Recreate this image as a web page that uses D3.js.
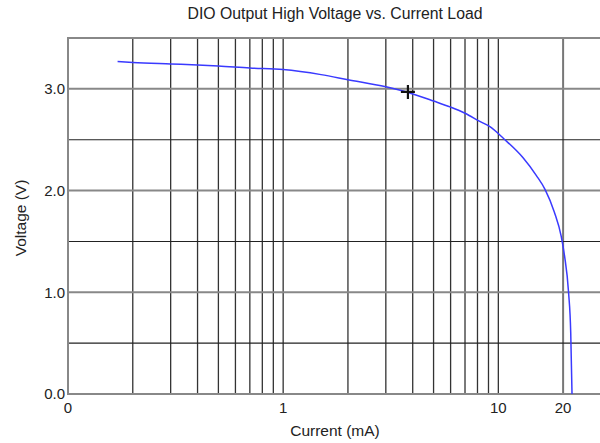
<!DOCTYPE html>
<html lang="en">
<head>
<meta charset="UTF-8">
<title>DIO Output High Voltage vs. Current Load</title>
<script src="https://d3js.org/d3.v7.min.js"></script>
<style>
  body { margin: 0; background: #fff; }
  text { font-family: "Liberation Sans", Arial, sans-serif; fill: #222; }
</style>
</head>
<body>
<script>
// Curve readings: current (mA) and output voltage (V)
const currentMa = [0.17, 0.2, 0.3, 0.4, 0.5, 0.7, 1.0, 1.5, 2.0, 3.0, 4.0, 5.0, 6.0, 7.0, 8.2, 9.1, 10.6, 13.0, 15.0, 16.5, 18.2, 19.6, 20.3, 21.2, 21.7, 22.0];
const voltage   = [3.27, 3.26, 3.245, 3.235, 3.225, 3.205, 3.19, 3.14, 3.09, 3.02, 2.95, 2.88, 2.82, 2.76, 2.68, 2.63, 2.51, 2.325, 2.15, 2.01, 1.79, 1.55, 1.36, 1.0, 0.6, 0.0];

// Marker point
const marker = { current: 3.8, voltage: 2.97 };

// Grid and tick values
const xGrid = [0.2, 0.3, 0.4, 0.5, 0.6, 0.7, 0.8, 0.9, 1, 2, 3, 4, 5, 6, 7, 8, 9, 10, 20];
const xTicks = [0.1, 1, 10, 20];
const xTickLabels = ["0", "1", "10", "20"];
const yGrid = [0.5, 1.0, 1.5, 2.0, 2.5, 3.0];
const yTicks = [0, 1, 2, 3];

const width = 600, height = 443;
const margin = { top: 38, right: -1, bottom: 49, left: 68 };

const svg = d3.select("body").append("svg")
    .attr("width", width)
    .attr("height", height);

const x = d3.scaleLog()
    .domain([0.1, 30])
    .range([margin.left, width - margin.right]);

const y = d3.scaleLinear()
    .domain([0, 3.5])
    .range([height - margin.bottom, margin.top]);

svg.append("defs").append("clipPath").attr("id", "plot")
    .append("rect")
    .attr("x", margin.left).attr("y", margin.top)
    .attr("width", width - margin.left).attr("height", y(0) - margin.top);

// vertical grid
svg.append("g")
    .selectAll("line")
    .data(xGrid)
    .join("line")
    .attr("x1", d => x(d)).attr("x2", d => x(d))
    .attr("y1", y(3.5)).attr("y2", y(0))
    .attr("stroke", d => d === 20 ? "#777" : "#333")
    .attr("stroke-width", d => d === 20 ? 2 : 1.3);

// horizontal grid
svg.append("g")
    .selectAll("line")
    .data(yGrid)
    .join("line")
    .attr("x1", margin.left).attr("x2", width)
    .attr("y1", d => y(d)).attr("y2", d => y(d))
    .attr("stroke", d => Number.isInteger(d) ? "#888" : "#222")
    .attr("stroke-width", d => Number.isInteger(d) ? 2 : 1.1);

// frame: top, left and bottom
svg.append("path")
    .attr("d", `M${width},${y(3.5)}H${margin.left}V${y(0)}H${width}`)
    .attr("fill", "none")
    .attr("stroke", "#888")
    .attr("stroke-width", 2);

// curve
const pts = currentMa.map((c, i) => [c, voltage[i]]);
svg.append("path")
    .datum(pts)
    .attr("clip-path", "url(#plot)")
    .attr("fill", "none")
    .attr("stroke", "#3a3aff")
    .attr("stroke-width", 1.5)
    .attr("d", d3.line().x(d => x(d[0])).y(d => y(d[1])).curve(d3.curveMonotoneX));

// cross marker
const mx = x(marker.current), my = y(marker.voltage);
svg.append("path")
    .attr("d", `M${mx - 7},${my}H${mx + 7}M${mx},${my - 7}V${my + 7}`)
    .attr("stroke", "#111")
    .attr("stroke-width", 2.2);

// y tick labels
svg.append("g")
    .selectAll("text")
    .data(yTicks)
    .join("text")
    .attr("x", margin.left - 3)
    .attr("y", d => y(d))
    .attr("dy", "0.35em")
    .attr("text-anchor", "end")
    .attr("font-size", 15)
    .text(d => d.toFixed(1));

// x tick labels
svg.append("g")
    .selectAll("text")
    .data(xTicks)
    .join("text")
    .attr("x", d => x(d))
    .attr("y", y(0) + 19)
    .attr("text-anchor", "middle")
    .attr("font-size", 15)
    .text((d, i) => xTickLabels[i]);

// title
svg.append("text")
    .attr("x", 335)
    .attr("y", 19)
    .attr("text-anchor", "middle")
    .attr("font-size", 15.8)
    .text("DIO Output High Voltage vs. Current Load");

// axis labels
svg.append("text")
    .attr("x", 335)
    .attr("y", 436)
    .attr("text-anchor", "middle")
    .attr("font-size", 15.5)
    .text("Current (mA)");

svg.append("text")
    .attr("transform", `translate(26,${(y(0) + y(3.5)) / 2 + 2}) rotate(-90)`)
    .attr("text-anchor", "middle")
    .attr("font-size", 15.5)
    .text("Voltage (V)");
</script>
</body>
</html>
